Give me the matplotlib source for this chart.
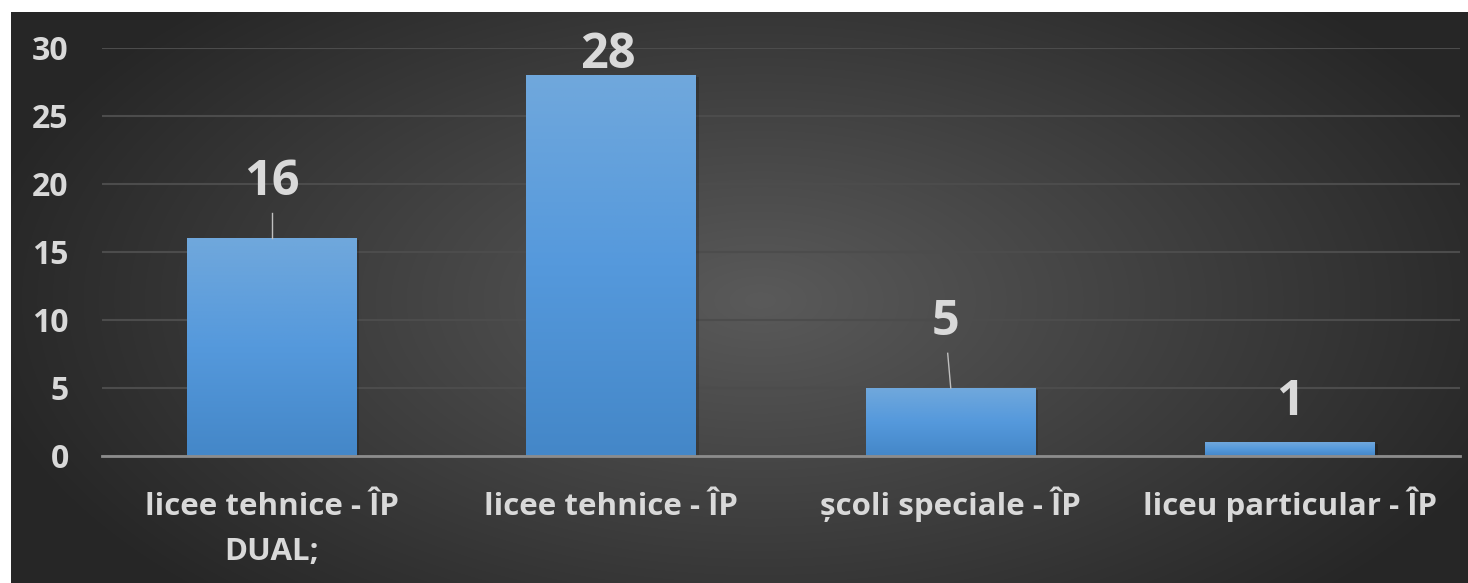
import numpy as np
import matplotlib
matplotlib.use("Agg")
import matplotlib.pyplot as plt
from matplotlib.colors import LinearSegmentedColormap

categories = ["licee tehnice - ÎP\nDUAL;", "licee tehnice - ÎP", "școli speciale - ÎP", "liceu particular - ÎP"]
values = [16, 28, 5, 1]
yticks = [0, 5, 10, 15, 20, 25, 30]
# label baselines (value-axis units) and small x offsets, as placed in the reference
label_y = [19.2, 28.5, 8.9, 3.0]
label_dx = [0.0, -0.01, -0.015, 0.0]
leader_top = [17.9, None, 7.55, None]

W, H, DPI = 1468, 583, 100
plt.rcParams['font.family'] = ['Open Sans', 'DejaVu Sans']
TXT = '#d9d9d9'
PX = 72.0 / DPI  # points per pixel

fig = plt.figure(figsize=(W / DPI, H / DPI), dpi=DPI, facecolor='white')

# background panel gradient
bg = fig.add_axes([0, 0, 1, 1], zorder=-10)
bg.set_axis_off()
yy, xx = np.mgrid[0:H, 0:W]
r = np.sqrt(((xx - 760) / 800.0) ** 2 + ((yy - 300) / 420.0) ** 2)
r = np.clip(r, 0, 1)
c_in = np.array([0x5a, 0x5a, 0x5a]) / 255
c_out = np.array([0x26, 0x26, 0x26]) / 255
img = c_in[None, None, :] * (1 - r[..., None]) + c_out[None, None, :] * r[..., None]
img[:12, :, :] = 1.0
img[:, :11, :] = 1.0
bg.imshow(img, extent=[0, 1, 0, 1], aspect='auto', interpolation='bilinear')
bg.set_xlim(0, 1); bg.set_ylim(0, 1)

ax = fig.add_axes([102 / W, (H - 456) / H, (1460 - 102) / W, (456 - 48) / H])
ax.patch.set_alpha(0)
x = np.arange(len(categories))
bars = ax.bar(x, values, width=0.5, facecolor='none', edgecolor='none', zorder=3)

cmap = LinearSegmentedColormap.from_list('bar', ['#4487c8', '#5599dc', '#70a8dc'])
grad = np.linspace(0, 1, 256).reshape(-1, 1)
for b in bars:
    x0, w, h = b.get_x(), b.get_width(), b.get_height()
    ax.bar(x0 + w / 2 + 0.008, h, width=w, bottom=-0.12, color='black', alpha=0.18, zorder=2.5, linewidth=0)
    im = ax.imshow(grad, cmap=cmap, origin='lower', extent=[x0, x0 + w, 0, h], aspect='auto', zorder=3)
    im.set_clip_path(b)

ax.set_xlim(-0.5, 3.5)
ax.set_ylim(0, 30)
ax.set_aspect('auto')
ax.set_yticks(yticks)
ax.set_yticklabels([str(t) for t in yticks])

first_lines = [c.split('\n')[0] for c in categories]
ax.set_xticks(x)
ax.set_xticklabels(first_lines)
XFS = 22.5
for i, c in enumerate(categories):
    rest = c.split('\n')[1:]
    for j, line in enumerate(rest):
        ax.annotate(line, xy=(x[i], 0), xycoords=ax.get_xaxis_transform(),
                    xytext=(0, -(515 - 456 + 45 * (j + 1)) * PX), textcoords='offset points',
                    ha='center', va='baseline', fontsize=XFS, fontweight='bold', color=TXT,
                    annotation_clip=False)

ax.grid(axis='y', color='#4c4c4c', linewidth=1.5, zorder=1)
ax.set_axisbelow(True)
for s in ['top', 'right', 'left']:
    ax.spines[s].set_visible(False)
ax.spines['bottom'].set_color('#8c8c8c')
ax.spines['bottom'].set_linewidth(2)
ax.spines['bottom'].set_zorder(4)
ax.tick_params(axis='both', length=0, colors=TXT)
ax.tick_params(axis='y', pad=24, labelsize=23)
ax.tick_params(axis='x', pad=(515 - 456) * PX, labelsize=XFS)
for t in ax.get_xticklabels():
    t.set_va('baseline')
for t in ax.get_xticklabels() + ax.get_yticklabels():
    t.set_fontweight('bold')
    t.set_color(TXT)

for i, v in enumerate(values):
    ax.text(x[i] + label_dx[i], label_y[i], str(v), ha='center', va='baseline',
            fontsize=35, fontweight='bold', color=TXT, zorder=6, clip_on=False)
    if leader_top[i] is not None:
        ax.plot([x[i], x[i] + label_dx[i] * 0.6], [v, leader_top[i]], color='#bfbfbf',
                linewidth=1, zorder=5, clip_on=False)

fig.savefig('out.png', dpi=DPI, facecolor='white')
